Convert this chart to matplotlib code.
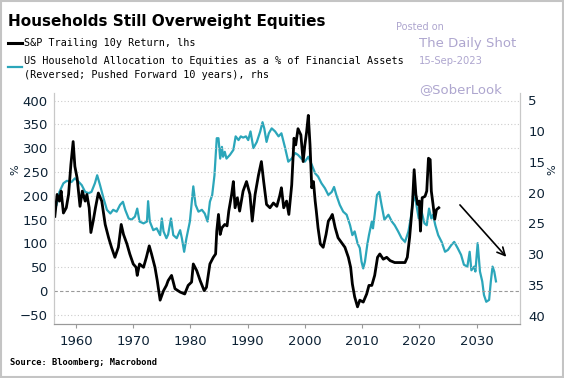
import matplotlib
matplotlib.use('Agg')
import matplotlib.pyplot as plt
from matplotlib.patches import Rectangle

# S&P trailing 10y return, % (left axis)
sp_years = [1956.3, 1956.7, 1957.1, 1957.4, 1957.8, 1958.3, 1958.7, 1959.1, 1959.5, 1959.8,
            1960.2, 1960.7, 1961.1, 1961.6, 1961.9, 1962.3, 1962.6, 1963.0, 1963.4, 1963.9,
            1964.5, 1965.1, 1965.7, 1966.2, 1966.8, 1967.4, 1967.9, 1968.3, 1968.9, 1969.4,
            1970.0, 1970.5, 1970.7, 1971.1, 1971.8, 1972.3, 1972.8, 1973.2, 1973.8, 1974.2,
            1974.7, 1975.3, 1975.8, 1976.1, 1976.7, 1977.3, 1978.2, 1979.0, 1979.6, 1980.2,
            1980.5, 1981.1, 1981.7, 1982.4, 1982.8, 1983.4, 1984.0, 1984.4, 1984.6, 1984.9,
            1985.2, 1985.5, 1986.0, 1986.4, 1986.7, 1987.2, 1987.5, 1987.8, 1988.2, 1988.6,
            1989.2, 1989.8, 1990.4, 1990.8, 1991.3, 1991.9, 1992.4, 1992.8, 1993.3, 1993.9,
            1994.5, 1995.1, 1995.6, 1995.9, 1996.3, 1996.8, 1997.2, 1997.7, 1998.1, 1998.4,
            1998.8, 1999.3, 1999.7, 2000.0, 2000.3, 2000.6, 2000.9, 2001.2, 2001.5, 2001.8,
            2002.0, 2002.3, 2002.7, 2003.2, 2003.7, 2004.1, 2004.5, 2004.8, 2005.3, 2005.8,
            2006.4, 2007.0, 2007.6, 2008.0, 2008.3, 2008.7, 2009.2, 2009.6, 2010.2, 2010.8,
            2011.2, 2011.7, 2012.2, 2012.7, 2013.1, 2013.7, 2014.3, 2014.9, 2015.7, 2016.6,
            2017.5, 2017.9, 2018.3, 2018.8, 2019.1, 2019.4, 2019.7, 2020.0, 2020.2, 2020.5,
            2021.0, 2021.3, 2021.6, 2021.9, 2022.1, 2022.4, 2022.7, 2023.0, 2023.4]
sp_return = [157, 203, 189, 210, 164, 175, 203, 265, 314, 262,
             237, 178, 210, 189, 203, 175, 123, 147, 175, 206,
             189, 140, 112, 92, 71, 92, 140, 119, 99, 78,
             57, 50, 33, 57, 50, 71, 95, 78, 50, 22,
             -19, 1, 12, 22, 33, 5, -2, -6, 12, 19,
             57, 43, 22, 1, 8, 57, 71, 78, 126, 161,
             119, 133, 140, 137, 168, 203, 230, 175, 196, 168,
             210, 230, 203, 147, 203, 244, 272, 230, 182, 175,
             185, 178, 200, 217, 175, 189, 161, 223, 321, 307,
             341, 328, 272, 307, 334, 369, 307, 217, 230, 189,
             168, 133, 99, 92, 119, 147, 154, 161, 133, 112,
             102, 92, 71, 50, 15, -12, -33, -19, -23, -6,
             12, 12, 33, 71, 78, 67, 71, 64, 60, 60,
             60, 71, 112, 182, 255, 203, 182, 189, 126, 196,
             199, 210, 279, 276, 210, 182, 151, 171, 175]

# US household equity allocation, % of financial assets, pushed forward 10y (right axis, reversed)
hh_years = [1956.6, 1957.1, 1957.8, 1958.4, 1959.2, 1959.8, 1960.4, 1961.0, 1961.6, 1962.2,
            1962.7, 1963.3, 1963.7, 1964.2, 1964.8, 1965.4, 1966.0, 1966.5, 1967.1, 1967.7,
            1968.2, 1968.6, 1969.2, 1969.7, 1970.3, 1970.7, 1971.1, 1971.8, 1972.4, 1972.6,
            1972.9, 1973.5, 1974.1, 1974.7, 1975.0, 1975.3, 1975.8, 1976.1, 1976.6, 1977.0,
            1977.6, 1978.2, 1978.5, 1978.9, 1979.3, 1979.9, 1980.3, 1980.5, 1980.9, 1981.4,
            1982.0, 1982.5, 1983.0, 1983.4, 1983.8, 1984.2, 1984.6, 1984.9, 1985.2, 1985.5,
            1985.7, 1986.0, 1986.3, 1986.9, 1987.5, 1987.9, 1988.4, 1988.8, 1989.2, 1989.7,
            1990.1, 1990.5, 1991.0, 1991.6, 1992.2, 1992.6, 1992.9, 1993.3, 1993.7, 1994.2,
            1994.8, 1995.4, 1995.9, 1996.5, 1997.1, 1997.7, 1998.3, 1998.8, 1999.4, 2000.0,
            2000.6, 2001.2, 2001.8, 2002.3, 2002.9, 2003.5, 2004.1, 2004.7, 2005.1, 2005.5,
            2006.1, 2006.7, 2007.3, 2007.9, 2008.3, 2008.7, 2009.2, 2009.6, 2009.9, 2010.2,
            2010.5, 2010.9, 2011.2, 2011.7, 2011.9, 2012.2, 2012.6, 2013.0, 2013.4, 2013.9,
            2014.6, 2015.2, 2015.7, 2016.3, 2016.9, 2017.5, 2018.1, 2018.5, 2018.9, 2019.2,
            2019.5, 2019.9, 2020.4, 2020.9, 2021.3, 2021.7, 2022.1, 2022.4, 2022.8, 2023.3,
            2023.9, 2024.5, 2025.0, 2025.6, 2026.1, 2026.7, 2027.3, 2027.8, 2028.4, 2028.8,
            2029.1, 2029.6, 2029.8, 2030.2, 2030.6, 2031.0, 2031.3, 2031.7, 2032.2, 2032.5,
            2032.8, 2033.1, 2033.4]
hh_alloc = [22.0, 19.9, 18.5, 18.1, 18.3, 17.7, 18.2, 18.8, 19.9, 20.1,
            19.9, 18.5, 17.2, 18.8, 20.9, 22.8, 23.4, 22.8, 23.1, 22.0,
            21.5, 22.8, 24.2, 24.4, 23.9, 22.6, 24.7, 25.0, 24.7, 21.4,
            24.7, 26.1, 25.8, 26.9, 24.2, 26.3, 27.4, 26.8, 24.2, 26.9,
            27.4, 26.1, 27.4, 29.6, 27.4, 24.7, 20.9, 19.0, 22.0, 23.1,
            22.8, 23.4, 24.7, 21.5, 20.4, 17.2, 11.2, 11.2, 14.5, 12.6,
            14.2, 13.4, 14.5, 13.9, 13.1, 10.9, 11.5, 10.9, 11.1, 10.9,
            11.5, 10.1, 12.8, 11.8, 10.1, 8.6, 9.6, 11.8, 10.4, 9.6,
            10.1, 10.9, 10.4, 12.6, 15.0, 14.5, 13.6, 13.9, 14.5, 15.0,
            14.2, 15.5, 16.9, 17.4, 18.5, 19.3, 20.4, 19.9, 19.1, 20.4,
            22.0, 23.1, 23.6, 25.3, 26.9, 26.3, 28.2, 29.0, 31.2, 32.3,
            31.2, 28.5, 26.9, 24.7, 25.8, 23.6, 20.4, 19.9, 22.0, 24.4,
            23.6, 24.7, 25.3, 26.3, 27.4, 28.0, 26.3, 24.2, 21.5, 20.4,
            22.0, 24.2, 23.1, 25.0, 25.3, 22.6, 24.2, 23.6, 25.3, 26.9,
            28.0, 29.6, 29.3, 28.5, 28.0, 29.0, 30.1, 31.7, 32.0, 29.6,
            32.6, 32.0, 32.8, 28.2, 32.8, 34.4, 36.6, 37.7, 37.4, 34.4,
            32.0, 32.8, 34.4]

left_ticks = [400, 350, 300, 250, 200, 150, 100, 50, 0, -50]
right_ticks = [5, 10, 15, 20, 25, 30, 35, 40]
x_ticks = [1960, 1970, 1980, 1990, 2000, 2010, 2020, 2030]

tick_color = '#0d2235'
teal = '#2ba6ba'
mark_color = '#aea6cf'

fig = plt.figure(figsize=(5.64, 3.78), dpi=100)
ax = fig.add_axes([0.0949, 0.1429, 0.9220 - 0.0949, 0.7540 - 0.1429])
ax2 = ax.twinx()

ax2.plot(hh_years, hh_alloc, color=teal, lw=1.6, solid_joinstyle='round')
ax.plot(sp_years, sp_return, color='black', lw=2.0, solid_joinstyle='round')

# black series drawn above the teal one
ax.set_zorder(ax2.get_zorder() + 1)
ax.patch.set_visible(False)

ax.set_xlim(1956.07, 2037.6)
ax.set_ylim(-69, 416)
ax2.set_ylim(41.3, 3.87)

for v in left_ticks:
    if v == 0:
        ax.axhline(v, color='#999999', lw=0.8, ls=(0, (3, 2)), zorder=0)
    else:
        ax.axhline(v, color='#cccccc', lw=0.8, ls=(0, (1, 2)), zorder=0)

ax.set_yticks(left_ticks)
ax2.set_yticks(right_ticks)
ax.set_xticks(x_ticks)
ax.tick_params(axis='y', length=0, labelsize=9.5, labelcolor=tick_color, pad=4)
ax2.tick_params(axis='y', length=0, labelsize=9.5, labelcolor=tick_color, pad=6)
ax.tick_params(axis='x', length=3, color='#999999', labelsize=9.5, labelcolor=tick_color, pad=5)

for a in (ax, ax2):
    a.spines['top'].set_visible(False)
    a.spines['left'].set_color('#c8c8c8')
    a.spines['right'].set_color('#c8c8c8')
    a.spines['bottom'].set_color('#999999')

fig.text(0.027, 0.55, '%', rotation=90, fontsize=8, color=tick_color, va='center', ha='center')
fig.text(0.979, 0.55, '%', rotation=90, fontsize=8, color=tick_color, va='center', ha='center')

ax.annotate('', xy=(2035.2, 72), xytext=(2027.1, 181),
            arrowprops=dict(arrowstyle='->', color='black', lw=1.2,
                            mutation_scale=14, shrinkA=0, shrinkB=0))

# title and legend
fig.text(0.014, 0.942, 'Households Still Overweight Equities', fontsize=11,
         fontweight='bold', va='center', ha='left')
mono = 'DejaVu Sans Mono'
fig.add_artist(plt.Line2D([0.014, 0.039], [0.886, 0.886], color='black', lw=2.2))
fig.text(0.043, 0.886, 'S&P Trailing 10y Return, lhs', fontsize=7.3, family=mono,
         va='center', ha='left')
fig.add_artist(plt.Line2D([0.014, 0.039], [0.823, 0.823], color=teal, lw=1.6))
fig.text(0.043, 0.839, 'US Household Allocation to Equities as a % of Financial Assets',
         fontsize=7.3, family=mono, va='center', ha='left')
fig.text(0.043, 0.802, '(Reversed; Pushed Forward 10 years), rhs', fontsize=7.3,
         family=mono, va='center', ha='left')

fig.text(0.018, 0.042, 'Source: Bloomberg; Macrobond', fontsize=6.3, family=mono,
         fontweight='bold', va='center', ha='left')

# watermark
fig.text(0.702, 0.928, 'Posted on', fontsize=7, color=mark_color, va='center', ha='left')
fig.text(0.743, 0.886, 'The Daily Shot', fontsize=9.5, color=mark_color, va='center', ha='left')
fig.text(0.743, 0.839, '15-Sep-2023', fontsize=7.2, color=mark_color, va='center', ha='left')
fig.text(0.743, 0.762, '@SoberLook', fontsize=9.5, color=mark_color, va='center', ha='left')

fig.add_artist(Rectangle((0.001, 0.002), 0.997, 0.995, transform=fig.transFigure,
                         fill=False, edgecolor='#c4c4c4', lw=1.5))

fig.savefig('out.png', dpi=100)
